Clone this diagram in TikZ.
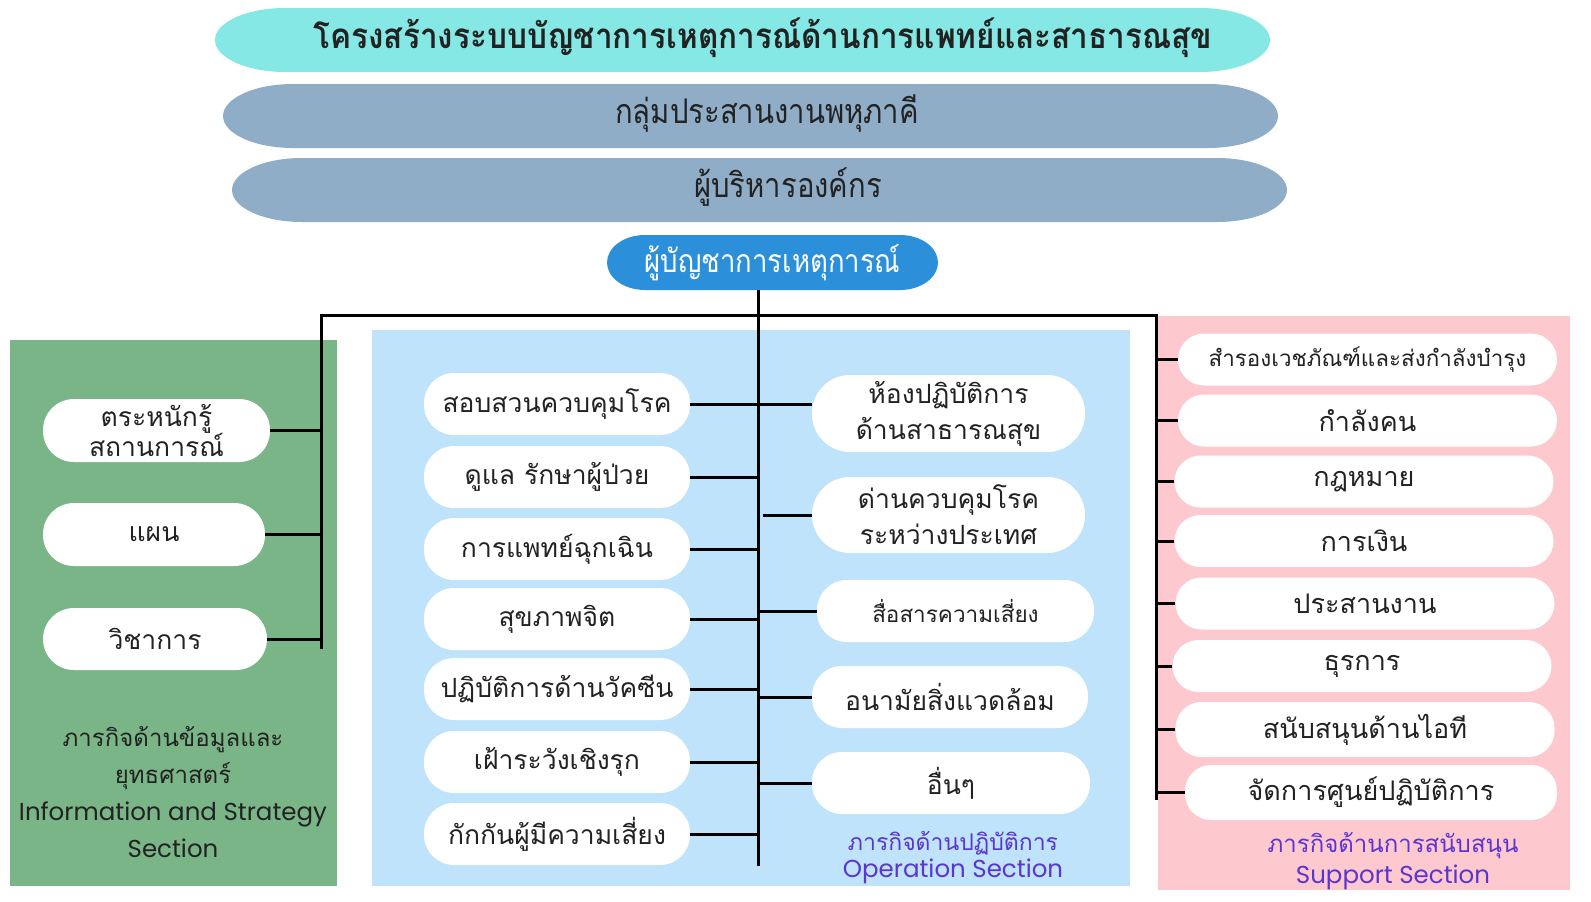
\documentclass[tikz,border=0pt]{standalone}
\usepackage{fontspec}
\setmainfont{Loma}[Script=Thai]
\newfontfamily\thai[Script=Thai]{Loma}
\newfontfamily\thaicond[Script=Thai,FakeStretch=0.86]{Loma}
\newfontfamily\thaititle[Script=Thai,FakeStretch=0.9]{Loma}
\newfontfamily\eng{Poppins}
\definecolor{titlec}{RGB}{134,232,228}
\definecolor{midc}{RGB}{143,173,198}
\definecolor{cmdc}{RGB}{43,144,217}
\definecolor{greenp}{RGB}{122,181,135}
\definecolor{bluep}{RGB}{190,227,250}
\definecolor{pinkp}{RGB}{253,201,207}
\definecolor{purp}{RGB}{90,53,208}
\definecolor{txt}{RGB}{34,34,34}
\newcommand\ovalfill[6]{\fill[#6] (#1+#5,#2) -- (#3-#5,#2) arc[start angle=-90,end angle=90,x radius=#5,y radius={(#4-#2)/2}] -- (#1+#5,#4) arc[start angle=90,end angle=270,x radius=#5,y radius={(#4-#2)/2}] -- cycle;}
\tikzset{
  pill/.style={fill=white, rounded corners=30pt, inner sep=0pt, align=center, text=txt,
    font=\thai\fontsize{26.5}{36}\selectfont},
  pinkpill/.style={pill, rounded corners=26pt, minimum width=379pt, minimum height=52pt,
    font=\thai\fontsize{27}{36}\selectfont},
  bluepill/.style={pill, minimum width=266pt, minimum height=62pt},
  conn/.style={line width=3pt, black, line join=miter},
  toptext/.style={inner sep=0pt, text=txt, font=\thaicond\fontsize{34}{40}\selectfont},
  caption/.style={align=center, inner sep=0pt, text=purp},
}
\begin{document}
\begin{tikzpicture}[x=1pt,y=-1pt]
\useasboundingbox (0,0) rectangle (1591,902);
\fill[white] (0,0) rectangle (1591,902);
% panels
\fill[greenp] (10,340) rectangle (337,886);
\fill[bluep] (372,330) rectangle (1130,886);
\fill[pinkp] (1158,316) rectangle (1570,890);
% top ovals
\ovalfill{215}{8}{1270}{72}{70}{titlec}
\ovalfill{223}{84}{1278}{148}{70}{midc}
\ovalfill{232}{158}{1287}{222}{70}{midc}
\ovalfill{607}{235}{938}{290}{38}{cmdc}
\node[toptext, font=\thaititle\bfseries\fontsize{35}{40}\selectfont] (title) at (763,38) {โครงสร้างระบบบัญชาการเหตุการณ์ด้านการแพทย์และสาธารณสุข};
\node[toptext] (multi) at (767,114) {กลุ่มประสานงานพหุภาคี};
\node[toptext] (exec) at (788,187) {ผู้บริหารองค์กร};
\node[toptext, text=white, minimum width=331pt, minimum height=55pt, font=\thaicond\fontsize{32}{40}\selectfont] (cmd) at (772.5,262.5) {ผู้บัญชาการเหตุการณ์};
% skeleton
\coordinate (tb) at (758,866);
\coordinate (hl) at (321,315);
\coordinate (hr) at (1156,315);
\coordinate (lb) at (321,649);
\coordinate (rb) at (1156,800);
\draw[conn] (cmd.south -| tb) -- (tb);
\draw[conn] (lb) -- (hl) -- (hr) -- (rb);
% green pills
\node[pill, minimum width=227pt, minimum height=63pt, rounded corners=31pt] (g1) at (156.5,430.5) {ตระหนักรู้\\[-6pt]สถานการณ์};
\node[pill, minimum width=222pt, minimum height=63pt, rounded corners=31pt] (g2) at (154,534.5) {แผน};
\node[pill, minimum width=224pt, minimum height=62pt, rounded corners=31pt] (g3) at (155,639) {วิชาการ};
\foreach \n in {g1,g2,g3} \draw[conn] (\n.east) -- (\n.east -| lb);
\node[align=center, inner sep=0pt, text=txt, font=\thai\fontsize{24}{37}\selectfont] (gcap) at (173,792)
  {ภารกิจด้านข้อมูลและ\\ยุทธศาสตร์\\{\eng\fontsize{24.5}{37}\selectfont Information and Strategy}\\{\eng\fontsize{24.5}{37}\selectfont Section}};
% blue left pills
\node[bluepill] (l1) at (557,404) {สอบสวนควบคุมโรค};
\node[bluepill] (l2) at (557,477) {ดูแล รักษาผู้ป่วย};
\node[bluepill] (l3) at (557,549) {การแพทย์ฉุกเฉิน};
\node[bluepill] (l4) at (557,619) {สุขภาพจิต};
\node[bluepill] (l5) at (557,689) {ปฏิบัติการด้านวัคซีน};
\node[bluepill] (l6) at (557,762) {เฝ้าระวังเชิงรุก};
\node[bluepill] (l7) at (557,834) {กักกันผู้มีความเสี่ยง};
\foreach \n in {l1,l2,l3,l4,l5,l6,l7} \draw[conn] (\n.east) -- (\n.east -| tb);
% blue right pills
\node[bluepill, minimum width=273pt, minimum height=77pt, rounded corners=38pt] (r1) at (948.5,413.5) {ห้องปฏิบัติการ\\ด้านสาธารณสุข};
\node[bluepill, minimum width=273pt, minimum height=76pt, rounded corners=38pt] (r2) at (948.5,515) {ด่านควบคุมโรค\\ระหว่างประเทศ};
\node[bluepill, minimum width=277pt, font=\thai\fontsize{22.5}{30}\selectfont] (r3) at (955.5,611) {สื่อสารความเสี่ยง};
\node[bluepill, minimum width=276pt] (r4) at (950,697) {อนามัยสิ่งแวดล้อม};
\node[bluepill, minimum width=278pt] (r5) at (951,783) {อื่นๆ};
\draw[conn] (r1.west |- l1.east) -- (l1.east -| tb);
\draw[conn] (r2.west) -- ([xshift=5pt]r2.west -| tb);
\draw[conn] (r3.west) -- (r3.west -| tb);
\draw[conn] (r4.west) -- (r4.west -| tb);
\draw[conn] (r5.west) -- (r5.west -| tb);
\node[caption, font=\thai\fontsize{23}{27}\selectfont] (bcap) at (953,858)
  {ภารกิจด้านปฏิบัติการ\\{\eng\fontsize{24.5}{27}\selectfont Operation Section}};
% pink pills
\node[pinkpill, font=\thai\fontsize{22.4}{30}\selectfont] (p1) at (1367.5,359.5) {สำรองเวชภัณฑ์และส่งกำลังบำรุง};
\node[pinkpill] (p2) at (1367.5,420.5) {กำลังคน};
\node[pinkpill] (p3) at (1364,481.5) {กฎหมาย};
\node[pinkpill] (p4) at (1364,541) {การเงิน};
\node[pinkpill] (p5) at (1365,603.5) {ประสานงาน};
\node[pinkpill] (p6) at (1362,666) {ธุรการ};
\node[pinkpill, minimum height=55pt] (p7) at (1365,729.5) {สนับสนุนด้านไอที};
\node[pinkpill, minimum width=372pt, minimum height=55pt] (p8) at (1371,792.5) {จัดการศูนย์ปฏิบัติการ};
\foreach \n in {p1,p2,p3,p4,p5,p6,p7,p8} \draw[conn] (\n.west) -- (\n.west -| rb);
\node[caption, font=\thai\fontsize{24}{31}\selectfont] (pcap) at (1393,861)
  {ภารกิจด้านการสนับสนุน\\{\eng\fontsize{24.5}{31}\selectfont Support Section}};
\end{tikzpicture}
\end{document}
